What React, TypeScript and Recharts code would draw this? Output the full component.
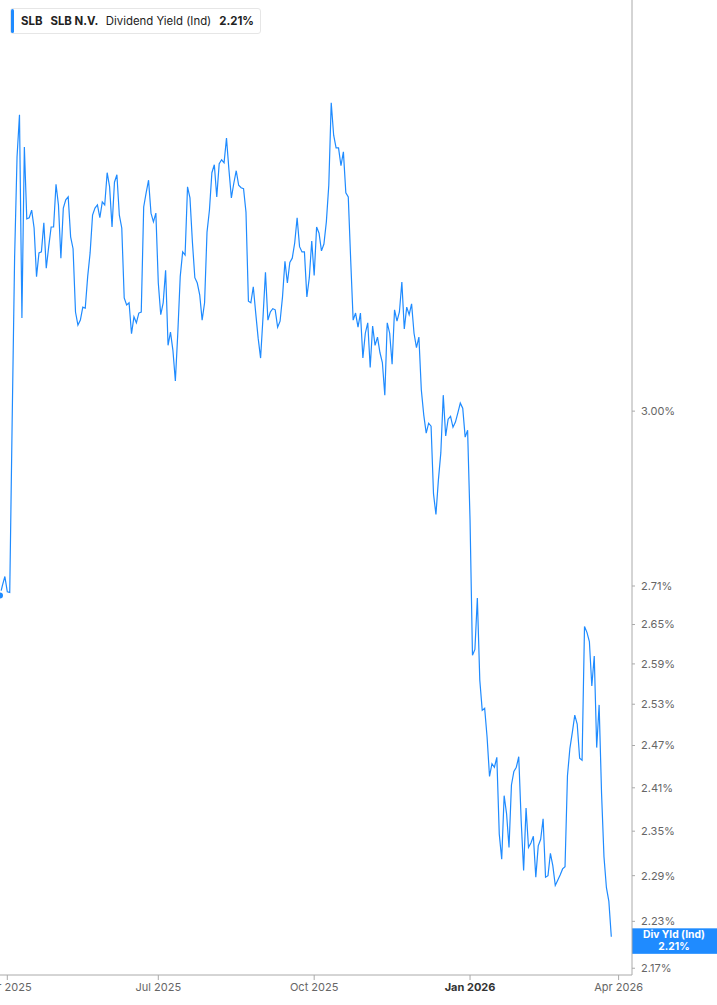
import React from 'react';
import { LineChart, Line, XAxis, YAxis, ReferenceLine } from 'recharts';

// SLB indicated dividend yield (%), one value per trading day, split by quarter
const q2_2025 = [
  2.695, 2.711, 2.725, 2.701, 2.700, 2.984, 3.281, 3.478, 3.564, 3.167,
  3.498, 3.355, 3.357, 3.372, 3.337, 3.244, 3.289, 3.291, 3.347, 3.260,
  3.301, 3.339, 3.339, 3.423, 3.382, 3.279, 3.376, 3.392, 3.398, 3.320,
  3.297, 3.178, 3.154, 3.163, 3.187, 3.185, 3.244, 3.289, 3.362, 3.376,
  3.382, 3.357, 3.388, 3.382, 3.446, 3.418, 3.339, 3.427, 3.442, 3.362,
  3.337, 3.204, 3.191, 3.195, 3.138, 3.169, 3.158, 3.176, 3.178, 3.378,
  3.406, 3.431, 3.366, 3.349, 3.366,
];
const q3_2025 = [
  3.232, 3.173, 3.195, 3.256, 3.117, 3.141, 3.108, 3.053, 3.139, 3.244,
  3.291, 3.285, 3.418, 3.396, 3.310, 3.242, 3.232, 3.210, 3.163, 3.195,
  3.329, 3.372, 3.446, 3.462, 3.398, 3.464, 3.472, 3.466, 3.516, 3.452,
  3.396, 3.425, 3.450, 3.421, 3.416, 3.414, 3.368, 3.198, 3.195, 3.225,
  3.176, 3.130, 3.094, 3.169, 3.252, 3.163, 3.178, 3.184, 3.182, 3.150,
  3.161, 3.206, 3.273, 3.232, 3.271, 3.279, 3.308, 3.357, 3.301, 3.291,
  3.291, 3.206, 3.242, 3.312,
];
const q4_2025 = [
  3.246, 3.339, 3.327, 3.293, 3.306, 3.349, 3.421, 3.589, 3.522, 3.496,
  3.496, 3.460, 3.488, 3.406, 3.398, 3.275, 3.163, 3.176, 3.150, 3.176,
  3.094, 3.139, 3.158, 3.077, 3.152, 3.117, 3.132, 3.104, 3.086, 3.028,
  3.158, 3.139, 3.083, 3.182, 3.161, 3.178, 3.234, 3.147, 3.187, 3.173,
  3.193, 3.139, 3.113, 3.132, 3.037, 2.993, 2.962, 2.979, 2.974, 2.859,
  2.825, 2.882, 2.928, 3.028, 2.957, 2.986, 2.991, 2.972, 2.981, 2.997,
  3.014, 3.005, 2.955, 2.967,
];
const q1_2026 = [
  2.816, 2.603, 2.612, 2.691, 2.566, 2.521, 2.524, 2.482, 2.426, 2.444,
  2.439, 2.453, 2.346, 2.312, 2.399, 2.374, 2.328, 2.414, 2.433, 2.439,
  2.454, 2.364, 2.297, 2.382, 2.328, 2.334, 2.343, 2.288, 2.330, 2.339,
  2.367, 2.288, 2.290, 2.320, 2.303, 2.277, 2.284, 2.291, 2.299, 2.302,
  2.427, 2.466, 2.489, 2.514, 2.501, 2.452, 2.449, 2.647, 2.638, 2.624,
  2.557, 2.602, 2.467, 2.529, 2.402, 2.315, 2.274, 2.256, 2.21,
];

// trading-day index of each month label
const xTickIdx = [3, 65, 129, 193, 254];
const xTickLabels = ['Apr 2025', 'Jul 2025', 'Oct 2025', 'Jan 2026', 'Apr 2026'];
const yTicks = [2.17, 2.23, 2.29, 2.35, 2.41, 2.47, 2.53, 2.59, 2.65, 2.71, 3.0];
const lastYield = 2.21;

const yields = [...q2_2025, ...q3_2025, ...q4_2025, ...q1_2026];
const data = yields.map((v, i) => ({ i, v }));

const BLUE = '#1f8bff';
const FONT = 'Inter, "Noto Sans", sans-serif';

const XTick = (props: any) => {
  const { x, y, payload } = props;
  const label = xTickLabels[xTickIdx.indexOf(payload.value)] ?? '';
  const bold = label.startsWith('Jan');
  return (
    <text x={x} y={y} dy="0.71em" textAnchor="middle" fontSize={11} fontFamily={FONT}
      fill={bold ? '#333' : '#666'} fontWeight={bold ? 700 : 400}>
      {label}
    </text>
  );
};

const YieldTag = (props: any) => {
  const { viewBox } = props;
  const x = viewBox.x + viewBox.width;
  const y = viewBox.y;
  return (
    <g>
      <rect x={x} y={y - 8.5} width={85} height={25.5} fill={BLUE} />
      <text x={x + 42} y={y - 2} dy="0.355em" textAnchor="middle" fill="#fff"
        fontSize={10.3} fontWeight={700} fontFamily={FONT}>Div Yld (Ind)</text>
      <text x={x + 42} y={y + 10} dy="0.355em" textAnchor="middle" fill="#fff"
        fontSize={10.3} fontWeight={700} fontFamily={FONT}>{lastYield.toFixed(2)}%</text>
    </g>
  );
};

export default function App() {
  return (
    <div style={{ position: 'absolute', left: 0, top: 0, width: 717, height: 1005, fontFamily: FONT, background: '#fff' }}>
      <LineChart width={717} height={1005} data={data} margin={{ top: 0, right: 0, bottom: 0, left: 0 }}>
        <XAxis
          dataKey="i"
          type="number"
          domain={[0, 259.5]}
          ticks={xTickIdx}
          interval={0}
          height={30}
          tick={<XTick />}
          tickSize={5}
          tickMargin={3}
          stroke="#aaa"
          axisLine={{ stroke: '#aaa' }}
          tickLine={{ stroke: '#aaa' }}
        />
        <YAxis
          orientation="right"
          type="number"
          scale="log"
          domain={[2.1615, 3.81]}
          allowDataOverflow
          ticks={yTicks}
          interval={0}
          width={85}
          tickSize={3}
          tickMargin={6}
          tickFormatter={(v: number) => `${v.toFixed(2)}%`}
          tick={{ fill: '#666', fontSize: 11, fontFamily: FONT }}
          axisLine={{ stroke: '#aaa' }}
          tickLine={{ stroke: '#aaa' }}
        />
        <ReferenceLine y={lastYield} stroke="none" ifOverflow="visible" label={<YieldTag />} />
        <Line
          type="linear"
          dataKey="v"
          stroke={BLUE}
          strokeWidth={1.2}
          dot={false}
          isAnimationActive={false}
        />
      </LineChart>
      <div style={{
        position: 'absolute', left: 10, top: 8, height: 24, display: 'flex', alignItems: 'center',
        background: '#fff', border: '1px solid #e6e6e6', borderRadius: 3, paddingRight: 6,
        fontSize: 11.4, color: '#222', whiteSpace: 'nowrap',
      }}>
        <div style={{ width: 3, alignSelf: 'stretch', background: BLUE, borderRadius: 2, marginRight: 7 }} />
        <span style={{ fontWeight: 700, marginRight: 8 }}>SLB</span>
        <span style={{ fontWeight: 700, marginRight: 7.5 }}>SLB N.V.</span>
        <span style={{ marginRight: 8 }}>Dividend Yield (Ind)</span>
        <span style={{ fontWeight: 700 }}>{lastYield.toFixed(2)}%</span>
      </div>
    </div>
  );
}
